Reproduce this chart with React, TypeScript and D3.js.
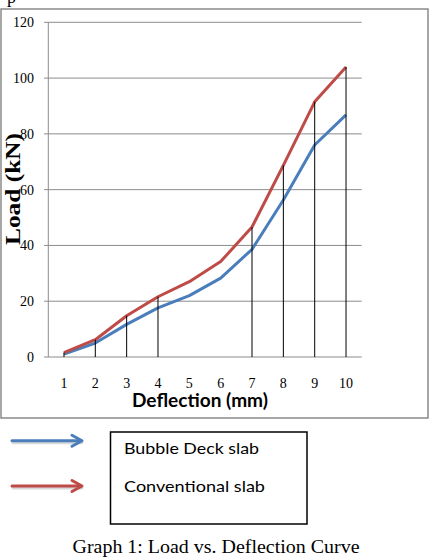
import React, { useEffect, useRef } from "react";
import * as d3 from "d3";

const deflection = ["1", "2", "3", "4", "5", "6", "7", "8", "9", "10"];
const bubbleDeck = [1, 5, 11.7, 17.6, 22, 28.3, 38.6, 56.3, 76, 86.8];
const conventional = [1.6, 6.2, 14.8, 21.6, 27, 34.2, 46.6, 68.7, 91.5, 104];
const dropLines = ["1", "2", "3", "4", "7", "8", "9", "10"];
const loadTicks = [0, 20, 40, 60, 80, 100, 120];
const seriesNames = ["Bubble Deck slab", "Conventional slab"];
const seriesColors = ["#4a7ebb", "#be4b48"];

const W = 438;
const H = 560;

export default function App() {
  const ref = useRef<SVGSVGElement>(null);

  useEffect(() => {
    const svg = d3.select(ref.current);
    svg.selectAll("*").remove();

    // tail of a cut-off line of text above the figure
    svg.append("text").attr("x", 7).attr("y", 3)
      .attr("font-family", "Liberation Serif").attr("font-size", 18).text("p");

    // figure frame
    svg.append("rect")
      .attr("x", 1).attr("y", 9).attr("width", 427).attr("height", 409)
      .attr("fill", "none").attr("stroke", "#8a8a8a").attr("stroke-width", 1.5);

    const x = d3.scalePoint<string>().domain(deflection).range([48.3, 361.7]).padding(0.5);
    const y = d3.scaleLinear().domain([0, 120]).range([357, 22.3]);

    const g = svg.append("g");

    // gridlines
    g.selectAll("line.grid").data(loadTicks).join("line")
      .attr("x1", 44).attr("x2", 361.7)
      .attr("y1", (d) => y(d)).attr("y2", (d) => y(d))
      .attr("stroke", "#8c8c8c").attr("stroke-width", 1);

    g.append("line")
      .attr("x1", 48.3).attr("x2", 48.3).attr("y1", y(120)).attr("y2", y(0))
      .attr("stroke", "#8c8c8c").attr("stroke-width", 1);

    g.selectAll("text.ytick").data(loadTicks).join("text")
      .attr("x", 34).attr("y", (d) => y(d) + 5)
      .attr("text-anchor", "end")
      .attr("font-family", "Liberation Serif").attr("font-size", 14)
      .text((d) => d);

    g.selectAll("text.xtick").data(deflection).join("text")
      .attr("x", (d) => x(d)!).attr("y", 388)
      .attr("text-anchor", "middle")
      .attr("font-family", "Liberation Serif").attr("font-size", 14)
      .text((d) => d);

    const line = d3.line<number>()
      .x((_, i) => x(deflection[i])!)
      .y((d) => y(d));

    [bubbleDeck, conventional].forEach((vals, i) => {
      g.append("path")
        .attr("d", line(vals))
        .attr("fill", "none")
        .attr("stroke", seriesColors[i])
        .attr("stroke-width", 3)
        .attr("stroke-linejoin", "round");
    });

    // drop lines
    g.selectAll("line.drop").data(dropLines).join("line")
      .attr("x1", (d) => x(d)!).attr("x2", (d) => x(d)!)
      .attr("y1", y(0))
      .attr("y2", (d) => y(conventional[deflection.indexOf(d)]))
      .attr("stroke", "#000").attr("stroke-width", 1);

    // axis titles
    svg.append("text")
      .attr("x", 200).attr("y", 407)
      .attr("text-anchor", "middle")
      .attr("font-family", "Lato").attr("font-weight", "bold").attr("font-size", 18)
      .attr("textLength", 136).attr("lengthAdjust", "spacingAndGlyphs")
      .text("Deflection  (mm)");

    svg.append("text")
      .attr("transform", "translate(20,189) rotate(-90)")
      .attr("text-anchor", "middle")
      .attr("font-family", "Liberation Serif").attr("font-weight", "bold").attr("font-size", 22)
      .attr("textLength", 112).attr("lengthAdjust", "spacingAndGlyphs")
      .text("Load  (kN)");

    // legend arrows
    const arrowY = [440.7, 486];
    arrowY.forEach((ay, i) => {
      const a = svg.append("g").attr("stroke", seriesColors[i]).attr("fill", "none")
        .attr("stroke-width", 3).attr("stroke-linecap", "round").attr("stroke-linejoin", "round");
      a.append("line").attr("x1", 12).attr("x2", 81).attr("y1", ay).attr("y2", ay)
        .attr("stroke", "#d8d8d8").attr("transform", "translate(1,2)");
      a.append("line").attr("x1", 12).attr("x2", 81).attr("y1", ay).attr("y2", ay);
      a.append("path").attr("d", `M72,${ay - 5.5} L82,${ay} L72,${ay + 5.5}`);
    });

    // legend box
    svg.append("rect")
      .attr("x", 110.5).attr("y", 432).attr("width", 196.5).attr("height", 92)
      .attr("fill", "#fff").attr("stroke", "#000").attr("stroke-width", 1.5);

    const legendY = [454, 492];
    seriesNames.forEach((name, i) => {
      svg.append("text")
        .attr("x", 124).attr("y", legendY[i])
        .attr("font-family", "Lato").attr("font-size", 15)
        .attr("textLength", i === 0 ? 135 : 141).attr("lengthAdjust", "spacingAndGlyphs")
        .text(name);
    });

    svg.append("text")
      .attr("x", 216).attr("y", 553)
      .attr("text-anchor", "middle")
      .attr("font-family", "Liberation Serif").attr("font-size", 18)
      .attr("textLength", 287).attr("lengthAdjust", "spacingAndGlyphs")
      .text("Graph 1: Load vs. Deflection Curve");
  }, []);

  return (
    <svg
      ref={ref}
      width={W}
      height={H}
      style={{ position: "absolute", left: 0, top: 0, background: "#fff" }}
    />
  );
}
